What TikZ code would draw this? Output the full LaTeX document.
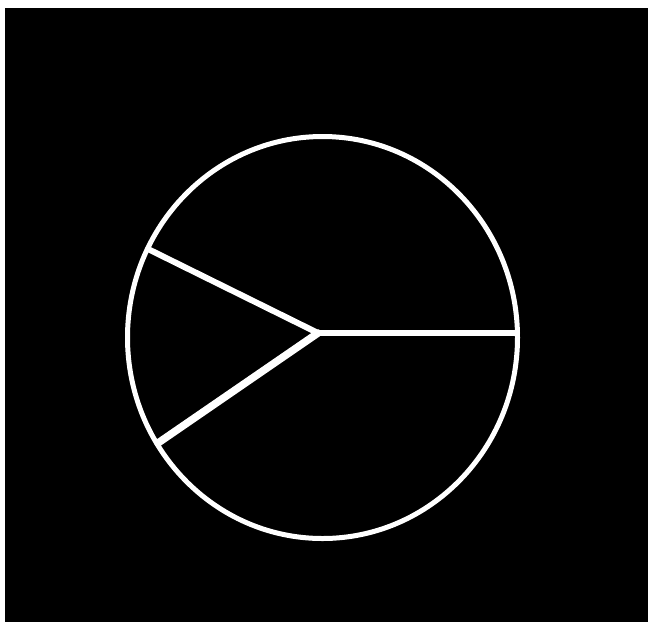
\documentclass[tikz,border=0pt]{standalone}
\usepackage{tikz}
\usetikzlibrary{positioning}
\definecolor{board}{HTML}{000000}
\definecolor{chalk}{HTML}{FFFFFF}

\begin{document}
\begin{tikzpicture}[x=1pt, y=-1pt,
    rim/.style={draw=chalk, line width=5pt},
    spoke/.style={draw=chalk, line width=6pt, line cap=round}]
  \useasboundingbox (0,0) rectangle (655,625);
  \fill[chalk] (0,0) rectangle (655,625);
  \fill[board] (5,8) rectangle (648,622);
  % dial outline
  \coordinate (mid) at (322.5,337.5);
  \draw[rim] (mid) ellipse [x radius=195pt, y radius=201pt];
  % the three dividers
  \coordinate (hub) at (318,333);
  \coordinate (east) at (517,333);
  \coordinate (northwest) at (148,249);
  \coordinate (southwest) at (158,443);
  \draw[spoke] (hub) -- (east);
  \draw[spoke] (hub) -- (northwest);
  \draw[spoke, line width=7.5pt] (hub) -- (southwest);
\end{tikzpicture}
\end{document}
